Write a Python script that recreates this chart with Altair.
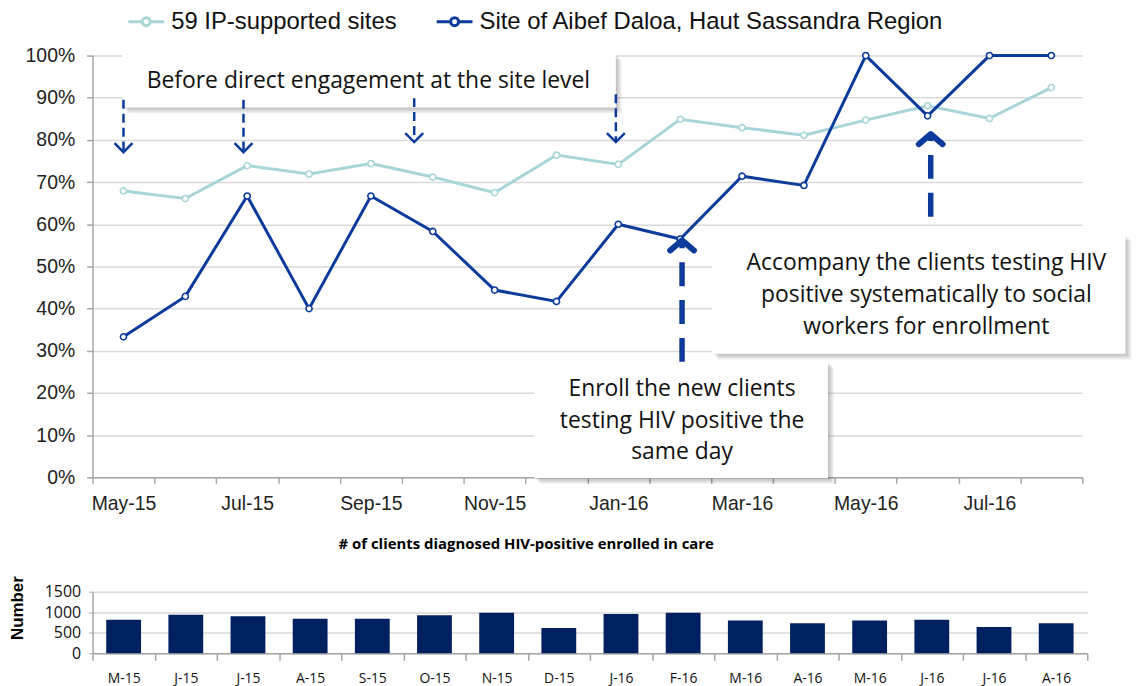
import altair as alt
import pandas as pd

# ---------------- data ----------------
months = ["May-15", "Jun-15", "Jul-15", "Aug-15", "Sep-15", "Oct-15", "Nov-15", "Dec-15",
          "Jan-16", "Feb-16", "Mar-16", "Apr-16", "May-16", "Jun-16", "Jul-16", "Aug-16"]
ip_sites = [67.9, 66.1, 73.9, 71.9, 74.4, 71.2, 67.5, 76.4, 74.2, 84.9, 82.9, 81.1, 84.7, 88.1, 85.1, 92.4]
aibef = [33.3, 42.9, 66.7, 40.0, 66.7, 58.3, 44.4, 41.7, 60.0, 56.5, 71.4, 69.2, 100.0, 85.7, 100.0, 100.0]
series_names = ["59 IP-supported sites", "Site of Aibef Daloa, Haut Sassandra Region"]

bar_labels = ["M-15", "J-15", "J-15", "A-15", "S-15", "O-15", "N-15", "D-15",
              "J-16", "F-16", "M-16", "A-16", "M-16", "J-16", "J-16", "A-16"]
enrolled = [820, 940, 905, 845, 845, 925, 985, 615, 960, 985, 800, 735, 800, 820, 640, 735]

y_ticks = list(range(0, 101, 10))
bar_ticks = [0, 500, 1000, 1500]

# annotations, in data coordinates (month index, percent)
box_x = [-0.02, 9.52, 6.64]
box_x2 = [7.96, 16.2, 11.39]
box_y = [100.4, 57.5, 27.4]
box_y2 = [87.7, 29.3, -0.2]
box_text = ["Before direct engagement at the site level",
            "Accompany the clients testing HIV\npositive systematically to social\nworkers for enrollment",
            "Enroll the new clients\ntesting HIV positive the\nsame day"]
text_x = [3.96, 12.98, 9.03]
text_y = [93.9, 50.7, 21.0]

down_x = [0.0, 1.94, 4.7, 7.96]
down_from = [89.5, 89.5, 89.9, 90.8]
down_tip = [77.1, 77.1, 79.5, 79.5]
up_x = [9.03, 13.05]
up_from = [27.4, 61.8]
up_tip = [56.2, 81.4]

# ---------------- styles ----------------
LIGHT = "#A8D5D8"
DARK = "#0C3B9C"
NAVY = "#002060"
GRID = "#D9D9D9"
AXIS = "#A6A6A6"
ARIAL = "Liberation Sans, Arial"
CALIBRI = "Open Sans, Lato"

TOP_W, TOP_H = 995, 424
BOT_W, BOT_H = 1000, 62
n = len(months)

# ---------------- tables ----------------
line_rows = []
for i, m in enumerate(months):
    line_rows.append({"i": i, "month": m, "series": series_names[0], "value": ip_sites[i]})
    line_rows.append({"i": i, "month": m, "series": series_names[1], "value": aibef[i]})
line_df = pd.DataFrame(line_rows)

box_df = pd.DataFrame({"x": box_x, "x2": box_x2, "y": box_y, "y2": box_y2})
text_df = pd.DataFrame({"x": text_x, "y": text_y, "t": box_text})
down_df = pd.DataFrame({"x": down_x, "y": down_from, "tip": down_tip})
up_df = pd.DataFrame({"x": up_x, "y": up_from, "tip": up_tip})
bar_df = pd.DataFrame({"i": list(range(n)), "v": enrolled})

boundaries = [k - 0.5 for k in range(n + 1)]
month_arr = "[" + ",".join("'%s'" % m for m in months) + "]"
bar_arr = "[" + ",".join("'%s'" % m for m in bar_labels) + "]"

x_scale = alt.Scale(domain=[-0.5, n - 0.5], nice=False, zero=False)
y_scale = alt.Scale(domain=[0, 100], nice=False)
color_scale = alt.Scale(domain=series_names, range=[LIGHT, DARK])

x_axis = alt.Axis(values=boundaries,
                  labelExpr="(datum.value + 0.5) %% 2 == 0 && datum.value < %d ? %s[datum.value + 0.5] : ''" % (n - 1, month_arr),
                  labelOffset=TOP_W / n / 2, grid=False, tickSize=6, tickColor=AXIS, domainColor=AXIS,
                  domainWidth=1.5, tickWidth=1.5,
                  labelFont=ARIAL, labelFontSize=19.5, labelColor="#222222", labelPadding=11,
                  labelFlush=False, labelOverlap=False, title=None)
y_axis = alt.Axis(values=y_ticks, labelExpr="datum.value + '%'", grid=True, gridColor=GRID, gridWidth=1.5,
                  tickSize=6, tickColor=AXIS, domainColor=AXIS, domainWidth=1.5, tickWidth=1.5,
                  labelFont=ARIAL, labelFontSize=19.5, labelColor="#222222", labelPadding=12, title=None)

LEG_PATH = ("M-1.8,0L-0.4,0M0.4,0L1.8,0"
            "M0.4,0C0.4,0.2209,0.2209,0.4,0,0.4C-0.2209,0.4,-0.4,0.2209,-0.4,0"
            "C-0.4,-0.2209,-0.2209,-0.4,0,-0.4C0.2209,-0.4,0.4,-0.2209,0.4,0Z")

legend = alt.Legend(title=None, orient="none", legendX=42, legendY=-46, direction="horizontal",
                    symbolType=LEG_PATH, symbolSize=400, symbolStrokeWidth=3, symbolFillColor="white",
                    labelFont=ARIAL, labelFontSize=24, labelColor="#111111", labelOffset=13,
                    columnPadding=34, padding=0, rowPadding=0, labelLimit=600)


def xq(f):
    return alt.X(f + ":Q", scale=x_scale, axis=x_axis)


def yq(f):
    return alt.Y(f + ":Q", scale=y_scale, axis=y_axis)


base = alt.Chart(line_df)


def series_line(k):
    return base.transform_filter(alt.datum.series == series_names[k]).mark_line(strokeWidth=3).encode(
        x=xq("i"), y=yq("value"), color=alt.Color("series:N", scale=color_scale, legend=legend))


def series_points(k):
    return base.transform_filter(alt.datum.series == series_names[k]).mark_point(
        filled=True, fill="white", size=38, strokeWidth=1.6, opacity=1).encode(
        x=xq("i"), y=yq("value"),
        stroke=alt.Stroke("series:N", scale=color_scale, legend=None))


shadows = [
    alt.Chart(box_df).mark_rect(fill="black", opacity=0.045, xOffset=k, x2Offset=k, yOffset=k, y2Offset=k).encode(
        x=xq("x"), x2="x2", y=yq("y"), y2="y2")
    for k in [1, 2, 3, 4, 5, 6]
]
boxes = alt.Chart(box_df).mark_rect(fill="white").encode(x=xq("x"), x2="x2", y=yq("y"), y2="y2")
texts = alt.Chart(text_df).mark_text(font=CALIBRI, fontSize=23, lineBreak="\n", lineHeight=32,
                                     align="center", baseline="middle", color="#111111").encode(
    x=xq("x"), y=yq("y"), text="t:N")

down_shaft = alt.Chart(down_df).mark_rule(color=DARK, strokeWidth=2.5, strokeDash=[9, 5]).encode(
    x=xq("x"), y=yq("y"), y2="tip")
down_head = alt.Chart(down_df).mark_point(shape="M-1,-1L0,0L1,-1", size=324, filled=False, color=DARK,
                                          strokeWidth=2.5, opacity=1).encode(x=xq("x"), y=yq("tip"))
up_shaft = alt.Chart(up_df).mark_rule(color=DARK, strokeWidth=5.5, strokeDash=[24, 14]).encode(
    x=xq("x"), y=yq("y"), y2="tip")
up_head = alt.Chart(up_df).mark_point(shape="M-1,0.85L0,0L1,0.85", size=576, filled=False, color=DARK,
                                      strokeWidth=6, strokeCap="round", strokeJoin="round", opacity=1).encode(
    x=xq("x"), y=yq("tip"))

top = alt.layer(
    series_line(0), series_points(0), series_line(1), series_points(1),
    *shadows, boxes, down_shaft, down_head, up_shaft, up_head, texts
).properties(width=TOP_W, height=TOP_H)

# ---------------- bottom bar chart ----------------
bx_axis = alt.Axis(values=boundaries,
                   labelExpr="datum.value < %d ? %s[datum.value + 0.5] : ''" % (n - 1, bar_arr),
                   labelOffset=BOT_W / n / 2, grid=False, tickSize=7, tickColor=AXIS, domainColor=AXIS,
                   domainWidth=1.5, tickWidth=1.5,
                   labelFont=CALIBRI, labelFontSize=14, labelColor="#111111", labelPadding=11,
                   labelFlush=False, labelOverlap=False, title=None)
by_axis = alt.Axis(values=bar_ticks, format="d", grid=True, gridColor=GRID, gridWidth=1.5, tickSize=4,
                   tickColor=AXIS, domainColor=AXIS, domainWidth=1.5, labelFont=CALIBRI, labelFontSize=16,
                   labelColor="#111111", labelPadding=8, title="Number", titleFont=ARIAL, titleFontSize=17,
                   titleFontWeight="bold", titleColor="#000000", titleX=-66, titleY=16, titleAngle=270,
                   titleBaseline="bottom", titleAlign="center")

bottom = alt.Chart(bar_df).transform_calculate(
    x1="datum.i - 0.28", x2="datum.i + 0.28"
).mark_rect(color=NAVY).encode(
    x=alt.X("x1:Q", scale=alt.Scale(domain=[-0.5, n - 0.5], nice=False, zero=False), axis=bx_axis),
    x2="x2:Q",
    y=alt.Y("v:Q", scale=alt.Scale(domain=[0, 1500], nice=False), axis=by_axis),
    y2=alt.datum(0),
).properties(
    width=BOT_W, height=BOT_H,
    title=alt.TitleParams("# of clients diagnosed HIV-positive enrolled in care", font=CALIBRI,
                          fontSize=15, fontWeight="bold", color="#000000", anchor="middle", dx=-64, offset=24)
)

chart = alt.vconcat(top, bottom, spacing=115, bounds="flush").properties(
    padding=0, background="white"
).configure_view(stroke=None)

chart.save("out.html", embed_options={"renderer": "svg", "actions": False})
